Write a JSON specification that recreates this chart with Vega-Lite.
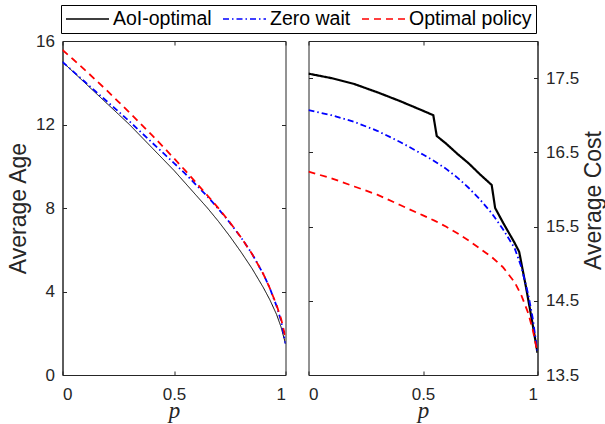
{
  "$schema": "https://vega.github.io/schema/vega-lite/v6.json",
  "padding": {"left": 6.5, "top": 4, "right": 0, "bottom": 0},
  "background": "white",
  "datasets": {
    "age": [
      {"p": 0, "series": "AoI-optimal", "value": 15.0},
      {"p": 0.05, "series": "AoI-optimal", "value": 14.5},
      {"p": 0.1, "series": "AoI-optimal", "value": 14.0},
      {"p": 0.15, "series": "AoI-optimal", "value": 13.5},
      {"p": 0.2, "series": "AoI-optimal", "value": 13.0},
      {"p": 0.25, "series": "AoI-optimal", "value": 12.5},
      {"p": 0.3, "series": "AoI-optimal", "value": 12.0},
      {"p": 0.35, "series": "AoI-optimal", "value": 11.45},
      {"p": 0.4, "series": "AoI-optimal", "value": 10.9},
      {"p": 0.45, "series": "AoI-optimal", "value": 10.35},
      {"p": 0.5, "series": "AoI-optimal", "value": 9.8},
      {"p": 0.55, "series": "AoI-optimal", "value": 9.2},
      {"p": 0.6, "series": "AoI-optimal", "value": 8.6},
      {"p": 0.65, "series": "AoI-optimal", "value": 8.0},
      {"p": 0.7, "series": "AoI-optimal", "value": 7.35},
      {"p": 0.75, "series": "AoI-optimal", "value": 6.65},
      {"p": 0.8, "series": "AoI-optimal", "value": 5.9},
      {"p": 0.85, "series": "AoI-optimal", "value": 5.1},
      {"p": 0.9, "series": "AoI-optimal", "value": 4.2},
      {"p": 0.93, "series": "AoI-optimal", "value": 3.6},
      {"p": 0.96, "series": "AoI-optimal", "value": 2.9},
      {"p": 0.98, "series": "AoI-optimal", "value": 2.3},
      {"p": 1, "series": "AoI-optimal", "value": 1.5},
      {"p": 0, "series": "Zero wait", "value": 15.0},
      {"p": 0.05, "series": "Zero wait", "value": 14.52},
      {"p": 0.1, "series": "Zero wait", "value": 14.05},
      {"p": 0.15, "series": "Zero wait", "value": 13.57},
      {"p": 0.2, "series": "Zero wait", "value": 13.1},
      {"p": 0.25, "series": "Zero wait", "value": 12.63},
      {"p": 0.3, "series": "Zero wait", "value": 12.15},
      {"p": 0.35, "series": "Zero wait", "value": 11.65},
      {"p": 0.4, "series": "Zero wait", "value": 11.15},
      {"p": 0.45, "series": "Zero wait", "value": 10.65},
      {"p": 0.5, "series": "Zero wait", "value": 10.15},
      {"p": 0.55, "series": "Zero wait", "value": 9.65},
      {"p": 0.6, "series": "Zero wait", "value": 9.1},
      {"p": 0.65, "series": "Zero wait", "value": 8.55},
      {"p": 0.7, "series": "Zero wait", "value": 7.95},
      {"p": 0.75, "series": "Zero wait", "value": 7.3},
      {"p": 0.8, "series": "Zero wait", "value": 6.6},
      {"p": 0.85, "series": "Zero wait", "value": 5.8},
      {"p": 0.9, "series": "Zero wait", "value": 4.85},
      {"p": 0.93, "series": "Zero wait", "value": 4.15},
      {"p": 0.96, "series": "Zero wait", "value": 3.3},
      {"p": 0.98, "series": "Zero wait", "value": 2.6},
      {"p": 1, "series": "Zero wait", "value": 1.5},
      {"p": 0, "series": "Optimal policy", "value": 15.57},
      {"p": 0.05, "series": "Optimal policy", "value": 15.1},
      {"p": 0.1, "series": "Optimal policy", "value": 14.62},
      {"p": 0.15, "series": "Optimal policy", "value": 14.12},
      {"p": 0.2, "series": "Optimal policy", "value": 13.62},
      {"p": 0.25, "series": "Optimal policy", "value": 13.1},
      {"p": 0.3, "series": "Optimal policy", "value": 12.58},
      {"p": 0.35, "series": "Optimal policy", "value": 12.04},
      {"p": 0.4, "series": "Optimal policy", "value": 11.5},
      {"p": 0.45, "series": "Optimal policy", "value": 10.95},
      {"p": 0.5, "series": "Optimal policy", "value": 10.38},
      {"p": 0.55, "series": "Optimal policy", "value": 9.8},
      {"p": 0.6, "series": "Optimal policy", "value": 9.2},
      {"p": 0.65, "series": "Optimal policy", "value": 8.6},
      {"p": 0.7, "series": "Optimal policy", "value": 7.98},
      {"p": 0.75, "series": "Optimal policy", "value": 7.32},
      {"p": 0.8, "series": "Optimal policy", "value": 6.6},
      {"p": 0.85, "series": "Optimal policy", "value": 5.8},
      {"p": 0.9, "series": "Optimal policy", "value": 4.85},
      {"p": 0.93, "series": "Optimal policy", "value": 4.15},
      {"p": 0.96, "series": "Optimal policy", "value": 3.35},
      {"p": 0.98, "series": "Optimal policy", "value": 2.7},
      {"p": 1, "series": "Optimal policy", "value": 1.8}
    ],
    "cost": [
      {"p": 0, "series": "AoI-optimal", "value": 17.56},
      {"p": 0.1, "series": "AoI-optimal", "value": 17.5},
      {"p": 0.2, "series": "AoI-optimal", "value": 17.42},
      {"p": 0.3, "series": "AoI-optimal", "value": 17.31},
      {"p": 0.4, "series": "AoI-optimal", "value": 17.19},
      {"p": 0.5, "series": "AoI-optimal", "value": 17.06},
      {"p": 0.545, "series": "AoI-optimal", "value": 17.0},
      {"p": 0.56, "series": "AoI-optimal", "value": 16.72},
      {"p": 0.6, "series": "AoI-optimal", "value": 16.62},
      {"p": 0.65, "series": "AoI-optimal", "value": 16.48},
      {"p": 0.7, "series": "AoI-optimal", "value": 16.35},
      {"p": 0.75, "series": "AoI-optimal", "value": 16.2},
      {"p": 0.8, "series": "AoI-optimal", "value": 16.06},
      {"p": 0.815, "series": "AoI-optimal", "value": 15.75},
      {"p": 0.85, "series": "AoI-optimal", "value": 15.55},
      {"p": 0.9, "series": "AoI-optimal", "value": 15.28},
      {"p": 0.92, "series": "AoI-optimal", "value": 15.16},
      {"p": 0.95, "series": "AoI-optimal", "value": 14.68},
      {"p": 0.975, "series": "AoI-optimal", "value": 14.25},
      {"p": 1, "series": "AoI-optimal", "value": 13.8},
      {"p": 0, "series": "Zero wait", "value": 17.07},
      {"p": 0.1, "series": "Zero wait", "value": 17.0},
      {"p": 0.2, "series": "Zero wait", "value": 16.91},
      {"p": 0.3, "series": "Zero wait", "value": 16.79},
      {"p": 0.4, "series": "Zero wait", "value": 16.64},
      {"p": 0.5, "series": "Zero wait", "value": 16.47},
      {"p": 0.55, "series": "Zero wait", "value": 16.38},
      {"p": 0.6, "series": "Zero wait", "value": 16.28},
      {"p": 0.65, "series": "Zero wait", "value": 16.16},
      {"p": 0.7, "series": "Zero wait", "value": 16.02},
      {"p": 0.75, "series": "Zero wait", "value": 15.86},
      {"p": 0.8, "series": "Zero wait", "value": 15.68},
      {"p": 0.85, "series": "Zero wait", "value": 15.46},
      {"p": 0.9, "series": "Zero wait", "value": 15.21},
      {"p": 0.93, "series": "Zero wait", "value": 14.95},
      {"p": 0.96, "series": "Zero wait", "value": 14.58},
      {"p": 0.98, "series": "Zero wait", "value": 14.25},
      {"p": 1, "series": "Zero wait", "value": 13.8},
      {"p": 0, "series": "Optimal policy", "value": 16.24},
      {"p": 0.1, "series": "Optimal policy", "value": 16.15},
      {"p": 0.2, "series": "Optimal policy", "value": 16.04},
      {"p": 0.3, "series": "Optimal policy", "value": 15.93},
      {"p": 0.4, "series": "Optimal policy", "value": 15.79},
      {"p": 0.5, "series": "Optimal policy", "value": 15.65},
      {"p": 0.55, "series": "Optimal policy", "value": 15.58},
      {"p": 0.6, "series": "Optimal policy", "value": 15.5},
      {"p": 0.65, "series": "Optimal policy", "value": 15.41},
      {"p": 0.7, "series": "Optimal policy", "value": 15.31},
      {"p": 0.75, "series": "Optimal policy", "value": 15.2},
      {"p": 0.8, "series": "Optimal policy", "value": 15.09},
      {"p": 0.85, "series": "Optimal policy", "value": 14.95},
      {"p": 0.9, "series": "Optimal policy", "value": 14.75},
      {"p": 0.93, "series": "Optimal policy", "value": 14.57},
      {"p": 0.96, "series": "Optimal policy", "value": 14.33},
      {"p": 0.98, "series": "Optimal policy", "value": 14.1},
      {"p": 1, "series": "Optimal policy", "value": 13.8}
    ]
  },
  "spacing": 21,
  "hconcat": [
    {
      "width": 223,
      "height": 334,
      "data": {"name": "age"},
      "layer": [
        {
          "mark": {"type": "line", "clip": true},
          "encoding": {
            "x": {"field": "p", "type": "quantitative", "scale": {"domain": [0, 1], "nice": false},
                  "axis": {"values": [0, 0.5, 1], "format": "~g", "title": "p", "labelPadding": 15, "titlePadding": -3}},
            "y": {"field": "value", "type": "quantitative", "scale": {"domain": [0, 16], "nice": false},
                  "axis": {"values": [0, 4, 8, 12, 16], "format": "d", "title": "Average Age", "titleFont": "Liberation Sans", "titleFontStyle": "normal", "titleFontSize": 23, "titlePadding": 5}},
            "color": {"field": "series", "type": "nominal", "title": null,
                      "scale": {"domain": ["AoI-optimal", "Zero wait", "Optimal policy"], "range": ["#000000", "#0000ff", "#ff0000"]}},
            "strokeDash": {"field": "series", "type": "nominal", "title": null,
                           "scale": {"domain": ["AoI-optimal", "Zero wait", "Optimal policy"], "range": [[1, 0], [6, 3, 1.5, 3], [7, 5]]}},
            "strokeWidth": {"condition": {"test": "datum.series === 'AoI-optimal'", "value": 1}, "value": 1.8}
          }
        },
        {
          "mark": {"type": "line", "opacity": 0},
          "encoding": {
            "x": {"field": "p", "type": "quantitative", "axis": {"orient": "top", "values": [0, 0.5, 1], "labels": false, "title": null, "domain": false}},
            "y": {"field": "value", "type": "quantitative", "axis": {"orient": "right", "values": [0, 4, 8, 12, 16], "labels": false, "title": null, "domain": false}}
          }
        }
      ],
      "resolve": {"axis": {"x": "independent", "y": "independent"}}
    },
    {
      "width": 229,
      "height": 334,
      "data": {"name": "cost"},
      "layer": [
        {
          "mark": {"type": "line", "clip": true},
          "encoding": {
            "x": {"field": "p", "type": "quantitative", "scale": {"domain": [0, 1], "nice": false},
                  "axis": {"values": [0, 0.5, 1], "format": "~g", "title": "p", "labelPadding": 15, "titlePadding": -3}},
            "y": {"field": "value", "type": "quantitative", "scale": {"domain": [13.5, 18], "nice": false, "zero": false},
                  "axis": {"orient": "right", "values": [13.5, 14.5, 15.5, 16.5, 17.5], "format": ".1f", "title": "Average Cost", "titleFont": "Liberation Sans", "titleFontStyle": "normal", "titleFontSize": 23, "titleAngle": 270, "titlePadding": 27, "titleY": 159}},
            "color": {"field": "series", "type": "nominal", "title": null,
                      "scale": {"domain": ["AoI-optimal", "Zero wait", "Optimal policy"], "range": ["#000000", "#0000ff", "#ff0000"]}},
            "strokeDash": {"field": "series", "type": "nominal", "title": null,
                           "scale": {"domain": ["AoI-optimal", "Zero wait", "Optimal policy"], "range": [[1, 0], [6, 3, 1.5, 3], [7, 5]]}},
            "strokeWidth": {"condition": {"test": "datum.series === 'AoI-optimal'", "value": 2.2}, "value": 1.8}
          }
        },
        {
          "mark": {"type": "line", "opacity": 0},
          "encoding": {
            "x": {"field": "p", "type": "quantitative", "axis": {"orient": "top", "values": [0, 0.5, 1], "labels": false, "title": null, "domain": false}},
            "y": {"field": "value", "type": "quantitative", "axis": {"orient": "left", "values": [13.5, 14.5, 15.5, 16.5, 17.5], "labels": false, "title": null, "domain": false}}
          }
        }
      ],
      "resolve": {"axis": {"x": "independent", "y": "independent"}}
    }
  ],
  "resolve": {"scale": {"color": "shared", "strokeDash": "shared"}},
  "config": {
    "view": {"stroke": "#262626", "strokeWidth": 1},
    "font": "Liberation Sans",
    "axis": {
      "grid": false,
      "domainColor": "#262626",
      "domainWidth": 1,
      "tickColor": "#262626",
      "tickSize": -4,
      "tickWidth": 1,
      "labelColor": "#262626",
      "labelFont": "Liberation Sans",
      "labelFontSize": 17,
      "labelPadding": 12,
      "titleColor": "#262626",
      "titleFontWeight": "normal",
      "titleFont": "Liberation Serif",
      "titleFontStyle": "italic",
      "titleFontSize": 23,
      "titlePadding": 2
    },
    "legend": {
      "orient": "none",
      "legendX": -1.5,
      "legendY": -36,
      "direction": "horizontal",
      "symbolType": "stroke",
      "symbolSize": 1849,
      "symbolStrokeWidth": 1.5,
      "clipHeight": 20,
      "labelFont": "Liberation Sans",
      "labelFontSize": 19.5,
      "labelColor": "#000000",
      "labelOffset": 3,
      "columnPadding": 10,
      "padding": 4,
      "strokeColor": "#000000",
      "fillColor": "#ffffff",
      "cornerRadius": 0
    }
  }
}
